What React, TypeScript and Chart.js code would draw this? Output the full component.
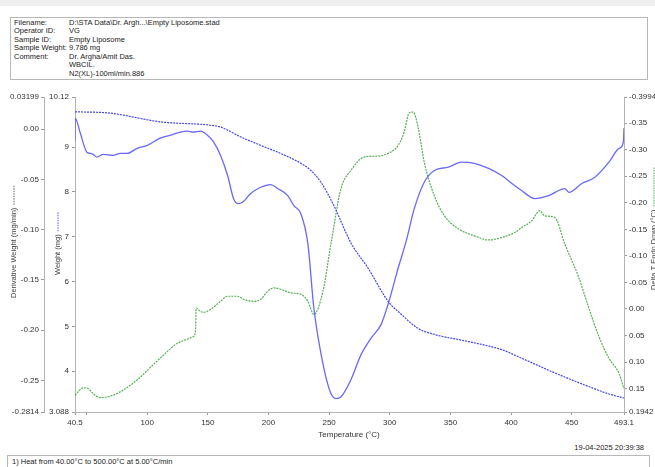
import React, { useEffect, useRef } from "react";
import { Chart, registerables } from "chart.js";

Chart.register(...registerables);

const FONT = '"Liberation Sans", Arial, sans-serif';

// ---- Header / footer text ----
const headerLabels = ["Filename:", "Operator ID:", "Sample ID:", "Sample Weight:", "Comment:", "", ""];
const headerValues = [
  "D:\\STA Data\\Dr. Argh...\\Empty Liposome.stad",
  "VG",
  "Empty Liposome",
  "9.786 mg",
  "Dr. Argha/Amit Das.",
  "WBCIL.",
  "N2(XL)-100ml/min.886",
];
const timestampText = "19-04-2025 20:39:38";
const methodText = "1)  Heat from 40.00\u00B0C to 500.00\u00B0C at 5.00\u00B0C/min";

// ---- Axis titles ----
const xTitle = "Temperature (\u00B0C)";
const derivTitle = "Derivative Weight (mg/min)";
const weightTitle = "Weight (mg)";
const deltaTitle = "Delta T Endo Down (\u00B0C)";

// ---- Ticks ----
const tempTicks = [40.5, 50, 100, 150, 200, 250, 300, 350, 400, 450, 493.1];
const tempTickLabels = ["40.5", "", "100", "150", "200", "250", "300", "350", "400", "450", "493.1"];
const derivTicks = [0.03199, 0, -0.05, -0.1, -0.15, -0.2, -0.25, -0.2814];
const derivTickLabels = ["0.03199", "0.00", "-0.05", "-0.10", "-0.15", "-0.20", "-0.25", "-0.2814"];
const weightTicks = [10.12, 9, 8, 7, 6, 5, 4, 3.088];
const weightTickLabels = ["10.12", "9", "8", "7", "6", "5", "4", "3.088"];
const deltaTicks = [-0.3994, -0.35, -0.3, -0.25, -0.2, -0.15, -0.1, -0.05, 0, 0.05, 0.1, 0.15, 0.1942];
const deltaTickLabels = ["-0.3994", "-0.35", "-0.30", "-0.25", "-0.20", "-0.15", "-0.10", "-0.05", "0.00", "0.05", "0.10", "0.15", "0.1942"];

// ---- Series: Weight (mg) ----
const weightTemp = [40.5, 69.5, 110.8, 152.2, 160.5, 177, 193.6, 210.1, 226.7, 235, 243.2, 254, 268, 282.1, 298.6, 309.4, 323.5, 336.7, 364.8, 392.2, 406.2, 433.5, 460.8, 480.7, 493.1];
const weightMg = [9.79, 9.76, 9.565, 9.49, 9.45, 9.23, 9.04, 8.86, 8.64, 8.48, 8.22, 7.69, 6.86, 6.3, 5.56, 5.27, 4.95, 4.82, 4.66, 4.48, 4.32, 3.99, 3.69, 3.49, 3.4];

// ---- Series: Derivative Weight (mg/min) ----
const dtgTemp = [40.5, 40.7, 44.6, 50.2, 52.9, 55.4, 58.5, 63.7, 72.0, 77.7, 83.5, 91.8, 100.1, 110.8, 119.1, 127.4, 133.2, 138.1, 143.9, 149.7, 154.7, 160.5, 166.3, 171.2, 174.5, 178.7, 185.3, 193.6, 201.8, 207.6, 215.9, 220.9, 226.7, 232.5, 237.4, 245.7, 251.5, 255.6, 259.8, 268.0, 276.3, 284.6, 292.9, 298.6, 307.0, 313.6, 320.2, 328.4, 336.7, 348.3, 359.1, 369.8, 381.4, 392.2, 402.9, 408.7, 419.5, 431.0, 444.3, 447.6, 458.3, 469.1, 480.7, 489.0, 492.6, 493.1];
const dtgValue = [-0.012, 0.011, -0.0028, -0.0228, -0.0241, -0.0251, -0.0278, -0.0251, -0.0261, -0.0241, -0.0241, -0.0191, -0.0161, -0.009, -0.006, -0.003, -0.002, -0.003, -0.002, -0.006, -0.0127, -0.0261, -0.0461, -0.0691, -0.0741, -0.0728, -0.0641, -0.0578, -0.0551, -0.0591, -0.0661, -0.0761, -0.0841, -0.1142, -0.1779, -0.238, -0.263, -0.268, -0.2663, -0.2493, -0.2243, -0.2079, -0.1942, -0.1742, -0.1379, -0.1111, -0.0791, -0.0528, -0.0411, -0.0378, -0.0328, -0.0341, -0.0391, -0.0461, -0.0561, -0.0611, -0.0691, -0.0661, -0.0591, -0.0628, -0.0541, -0.0478, -0.0328, -0.0191, -0.0127, 0.001];

// ---- Series: Delta T Endo Down (°C) ----
const dtaTemp = [40.5, 43.0, 47.1, 51.3, 55.4, 61.2, 67.0, 77.7, 91.8, 105.0, 116.6, 124.9, 138.1, 139.8, 140.4, 143.9, 146.4, 152.2, 160.5, 166.3, 174.5, 179.5, 187.8, 193.6, 199.4, 204.3, 210.1, 218.4, 226.7, 232.5, 237.4, 244.9, 251.5, 259.8, 268.0, 278.8, 290.4, 298.6, 307.0, 311.9, 316.0, 319.3, 323.5, 328.4, 336.7, 345.0, 356.6, 369.8, 381.4, 392.2, 402.9, 408.7, 417.0, 423.6, 427.7, 436.0, 444.3, 455.9, 464.1, 472.4, 480.7, 489.0, 493.1];
const dtaValue = [0.1625, 0.1563, 0.1487, 0.15, 0.1595, 0.1671, 0.1658, 0.1563, 0.1335, 0.1051, 0.0804, 0.0647, 0.052, 0.0425, -0.0017, 0.0046, 0.0064, 0.0008, -0.0144, -0.0239, -0.0239, -0.0182, -0.0144, -0.0182, -0.0334, -0.0396, -0.0372, -0.0302, -0.0277, -0.0144, 0.0103, -0.0334, -0.1225, -0.2268, -0.261, -0.2862, -0.2881, -0.2932, -0.3084, -0.3336, -0.3691, -0.371, -0.3406, -0.2767, -0.2135, -0.1756, -0.151, -0.1377, -0.1301, -0.1345, -0.1439, -0.1534, -0.1661, -0.1851, -0.1756, -0.1724, -0.1225, -0.0586, -0.0017, 0.052, 0.0931, 0.1216, 0.1506];

const toPoints = (xs: number[], ys: number[]) => xs.map((x, i) => ({ x, y: ys[i] }));

const CANVAS_TOP = 85;
const CANVAS_W = 655;
const CANVAS_H = 355;

function drawVTitle(ctx: CanvasRenderingContext2D, text: string, x: number, yStart: number, dashLen: number, dashColor: string) {
  ctx.save();
  ctx.translate(x, yStart);
  ctx.rotate(-Math.PI / 2);
  ctx.textAlign = "left";
  ctx.textBaseline = "middle";
  ctx.fillStyle = "#444";
  ctx.fillText(text, 0, 0);
  const w = ctx.measureText(text).width;
  ctx.strokeStyle = dashColor;
  ctx.lineWidth = 1;
  ctx.setLineDash([1.5, 1]);
  ctx.beginPath();
  ctx.moveTo(w + 3, 0);
  ctx.lineTo(w + 3 + dashLen, 0);
  ctx.stroke();
  ctx.restore();
}

const titlePlugin = {
  id: "customTitles",
  afterDraw(chart: any) {
    const ctx = chart.ctx as CanvasRenderingContext2D;
    ctx.save();
    ctx.font = `7.5px ${FONT}`;
    drawVTitle(ctx, derivTitle, 14, 298 - CANVAS_TOP, 19, "#666");
    drawVTitle(ctx, weightTitle, 58, 275 - CANVAS_TOP, 20, "#5a5aff");
    drawVTitle(ctx, deltaTitle, 654, 290 - CANVAS_TOP, 40, "#4caf50");
    ctx.textAlign = "center";
    ctx.textBaseline = "middle";
    ctx.fillStyle = "#333";
    ctx.font = `8px ${FONT}`;
    ctx.fillText(xTitle, 349, 435 - CANVAS_TOP);
    ctx.restore();
  },
};

const axisCommon = (labels: string[], ticksArr: number[]) => ({
  type: "linear" as const,
  afterBuildTicks: (s: any) => {
    s.ticks = ticksArr.map((v) => ({ value: v }));
  },
  ticks: {
    autoSkip: false,
    maxRotation: 0,
    callback: (_v: any, i: number) => labels[i],
    font: { size: 8, family: FONT },
    color: "#333",
    padding: 2,
  },
  grid: { display: true, drawOnChartArea: false, drawTicks: true, tickLength: 3, color: "#999" },
  border: { display: true, color: "#b4b4b4", width: 1 },
  title: { display: false },
});

export default function App() {
  const ref = useRef<HTMLCanvasElement | null>(null);

  useEffect(() => {
    if (!ref.current) return;
    const chart = new Chart(ref.current, {
      type: "line",
      data: {
        datasets: [
          {
            label: "Weight",
            data: toPoints(weightTemp, weightMg),
            yAxisID: "yW",
            borderColor: "#4646ee",
            borderWidth: 1.2,
            borderDash: [2, 1],
            pointRadius: 0,
            cubicInterpolationMode: "monotone",
            fill: false,
          },
          {
            label: "Derivative Weight",
            data: toPoints(dtgTemp, dtgValue),
            yAxisID: "yD",
            borderColor: "#6868ff",
            borderWidth: 1.3,
            pointRadius: 0,
            cubicInterpolationMode: "monotone",
            fill: false,
          },
          {
            label: "Delta T",
            data: toPoints(dtaTemp, dtaValue),
            yAxisID: "yT",
            borderColor: "#55b055",
            borderWidth: 1.2,
            borderDash: [2, 1],
            pointRadius: 0,
            cubicInterpolationMode: "monotone",
            fill: false,
          },
        ],
      },
      options: {
        animation: false,
        responsive: false,
        maintainAspectRatio: false,
        layout: { padding: { top: 12, left: 0, right: 0, bottom: 0 } },
        plugins: { legend: { display: false }, tooltip: { enabled: false } },
        scales: {
          x: {
            ...axisCommon(tempTickLabels, tempTicks),
            position: "bottom",
            min: 40.5,
            max: 493.1,
            afterFit: (s: any) => {
              s.height = 28;
            },
            ticks: {
              autoSkip: false,
              maxRotation: 0,
              callback: (_v: any, i: number) => tempTickLabels[i],
              font: { size: 8, family: FONT },
              color: "#333",
              padding: 3,
            },
          },
          yD: {
            ...axisCommon(derivTickLabels, derivTicks),
            position: "left",
            weight: 2,
            min: -0.2814,
            max: 0.03199,
            afterFit: (s: any) => {
              s.width = 44;
            },
          },
          yW: {
            ...axisCommon(weightTickLabels, weightTicks),
            position: "left",
            weight: 1,
            min: 3.088,
            max: 10.12,
            afterFit: (s: any) => {
              s.width = 31;
            },
            ticks: {
              autoSkip: false,
              callback: (_v: any, i: number) => weightTickLabels[i],
              font: { size: 8, family: FONT },
              color: "#333",
              padding: 3,
            },
          },
          yT: {
            ...axisCommon(deltaTickLabels, deltaTicks),
            position: "right",
            reverse: true,
            min: -0.3994,
            max: 0.1942,
            afterFit: (s: any) => {
              s.width = 31;
            },
          },
        } as any,
      },
      plugins: [titlePlugin],
    });
    return () => chart.destroy();
  }, []);

  const textStyle: React.CSSProperties = {
    position: "absolute",
    fontFamily: FONT,
    fontSize: "7.5px",
    color: "#222",
    whiteSpace: "nowrap",
    lineHeight: "9px",
  };

  return (
    <div style={{ position: "absolute", left: 0, top: 0, width: 655, height: 467, overflow: "hidden", background: "#fff" }}>
      <div style={{ position: "absolute", left: 0, top: 0, width: 655, height: 6, background: "#efefef" }} />
      <div style={{ position: "absolute", left: 10, top: 17, width: 638, height: 63, border: "1px solid #b8b8b8", boxSizing: "border-box" as any }} />
      {headerLabels.map((l, i) => (
        <div key={"l" + i} style={{ ...textStyle, left: 14, top: 17.5 + i * 8.5 }}>{l}</div>
      ))}
      {headerValues.map((v, i) => (
        <div key={"v" + i} style={{ ...textStyle, left: 69, top: 17.5 + i * 8.5 }}>{v}</div>
      ))}
      <canvas
        ref={ref}
        width={CANVAS_W}
        height={CANVAS_H}
        style={{ position: "absolute", left: 0, top: CANVAS_TOP, width: CANVAS_W, height: CANVAS_H }}
      />
      <div style={{ ...textStyle, right: 11, top: 443, textAlign: "right" }}>{timestampText}</div>
      <div style={{ position: "absolute", left: 7, top: 455, width: 643, height: 13, border: "1px solid #b8b8b8", boxSizing: "border-box" as any }} />
      <div style={{ ...textStyle, left: 12, top: 456.5 }}>{methodText}</div>
    </div>
  );
}
